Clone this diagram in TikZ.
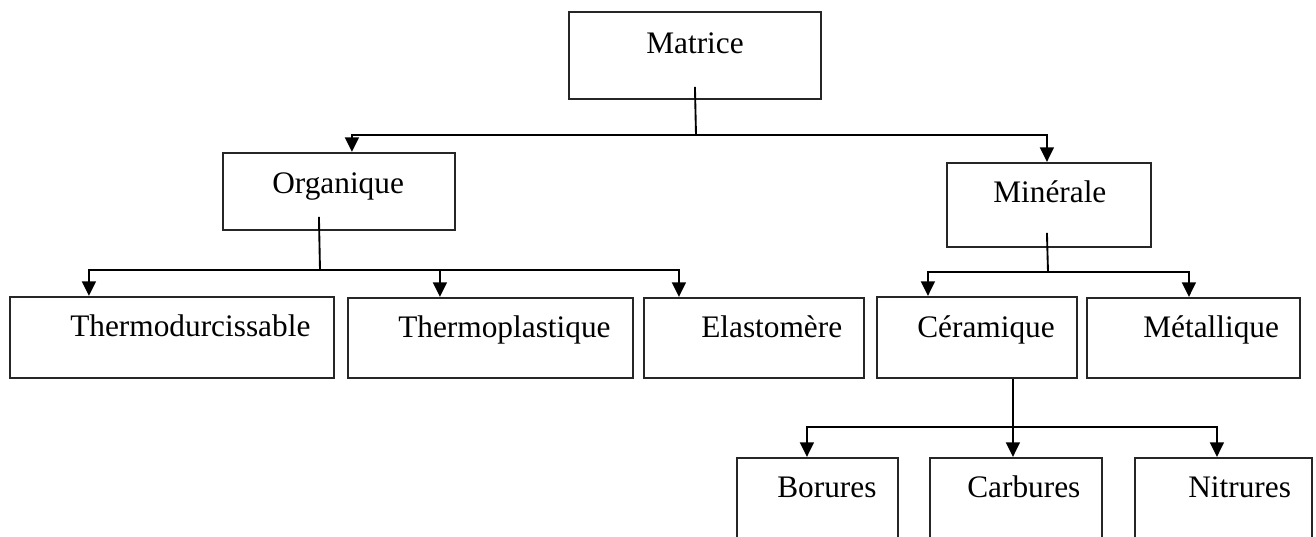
\documentclass[tikz,border=0pt]{standalone}
\usepackage{fontspec}
\setmainfont{Liberation Serif}
\usetikzlibrary{arrows.meta,calc}
\tikzset{
  bx/.style 2 args={draw=black!85, line width=1.6pt, inner sep=0pt, minimum width=#1*0.75pt, minimum height=#2*0.75pt},
  lbl/.style={inner sep=0pt, anchor=base west, font=\fontsize{23.5}{28}\selectfont},
  ln/.style={draw=black, line width=1.4pt},
  arr/.style={ln, -{Triangle[width=10.5pt,length=11pt]}}
}
\begin{document}
\begin{tikzpicture}[x=0.75pt,y=-0.75pt]
\fill[white] (0,0) rectangle (1316,536);
\useasboundingbox (0,0) rectangle (1316,536);
% boxes
\node[bx={252}{87}] (mat) at (695,55.5) {};
\node[bx={232}{77}] (org) at (339,191.5) {};
\node[bx={204}{84}] (min) at (1049,205) {};
\node[bx={324}{81}] (thd) at (172,337.5) {};
\node[bx={285}{80}] (thp) at (490.5,338) {};
\node[bx={220}{80}] (ela) at (754,338) {};
\node[bx={200}{81}] (cer) at (977,337.5) {};
\node[bx={213}{80}] (met) at (1193.5,338) {};
\node[bx={161}{82}] (bor) at (817.5,499) {};
\node[bx={172}{82}] (car) at (1016,499) {};
\node[bx={177}{82}] (nit) at (1223.5,499) {};
% labels
\node[lbl] (tmat) at (646,53) {Matrice};
\node[lbl] (torg) at (272,193) {Organique};
\node[lbl] (tmin) at (993,202) {Minérale};
\node[lbl] (tthd) at (70,336) {Thermodurcissable};
\node[lbl] (tthp) at (398,337) {Thermoplastique};
\node[lbl] (tela) at (701,337) {Elastomère};
\node[lbl] (tcer) at (917,337) {Céramique};
\node[lbl] (tmet) at (1143,337) {Métallique};
\node[lbl] (tbor) at (777,497) {Borures};
\node[lbl] (tcar) at (967,497) {Carbures};
\node[lbl] (tnit) at (1188,497) {Nitrures};
% connectors
\coordinate (j1) at (696,135);
\draw[ln] ($(mat.north west)+(127,76)$) -- (j1);
\draw[arr] (j1) -| ($(org.north west)+(130,0)$);
\draw[arr] (j1) -| ($(min.north west)+(101,0)$);
\coordinate (j2) at (320,270);
\draw[ln] ($(org.north west)+(97,65)$) -- (j2);
\draw[arr] (j2) -| ($(thd.north west)+(80,0)$);
\draw[arr] (j2) -| ($(thp.north west)+(93,0)$);
\draw[arr] (j2) -| ($(ela.north west)+(36,0)$);
\coordinate (j3) at (1048,272);
\draw[ln] ($(min.north west)+(101,71)$) -- (j3);
\draw[arr] (j3) -| ($(cer.north west)+(52,0)$);
\draw[arr] (j3) -| ($(met.north west)+(103,0)$);
\coordinate (j4) at (1014,427);
\draw[arr] ($(cer.south west)+(137,0)$) -- ($(car.north west)+(84,0)$);
\draw[arr] (j4) -| ($(bor.north west)+(71,0)$);
\draw[arr] (j4) -| ($(nit.north west)+(83,0)$);
\end{tikzpicture}
\end{document}
